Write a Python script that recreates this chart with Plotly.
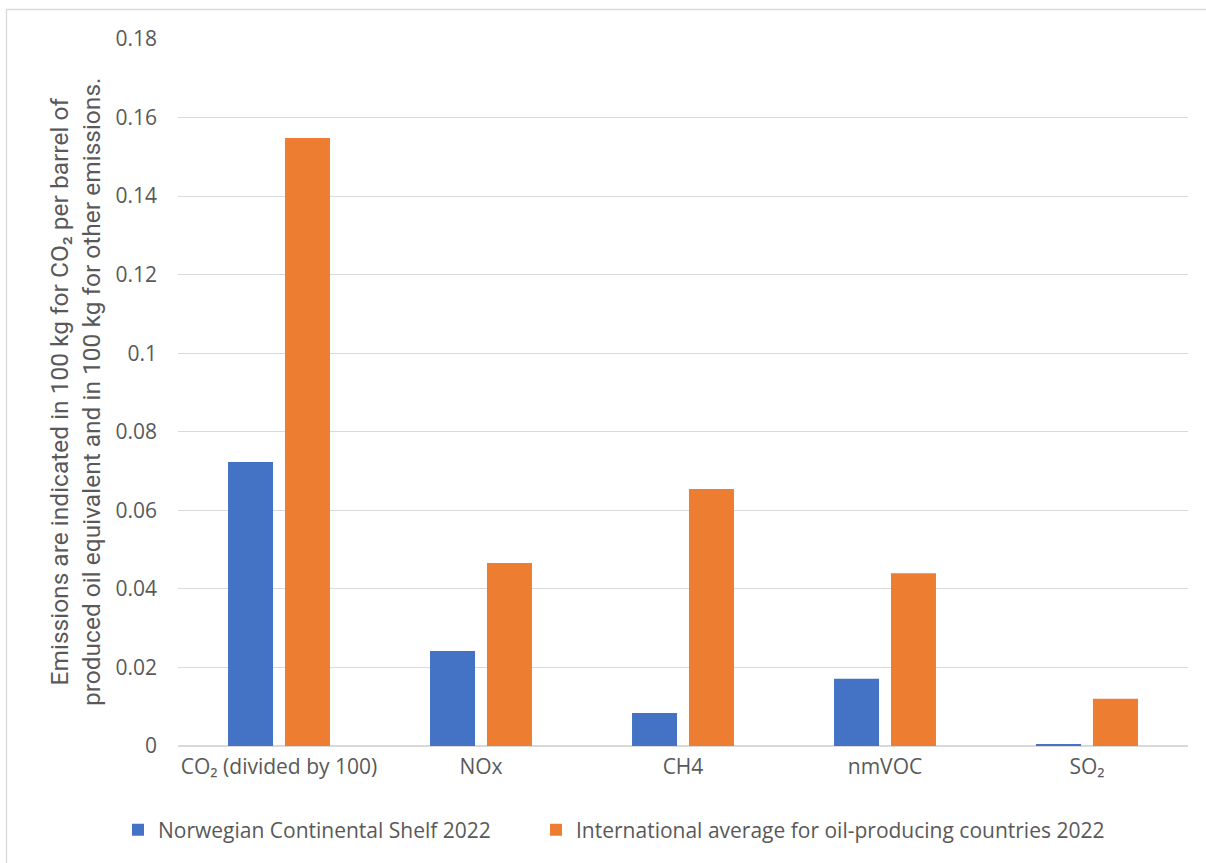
import plotly.graph_objects as go

categories = ["CO₂ (divided by 100)", "NOx", "CH4", "nmVOC", "SO₂"]
series_names = ["Norwegian Continental Shelf 2022",
                "International average for oil-producing countries 2022"]
ncs_values = [0.0723, 0.0242, 0.0084, 0.0171, 0.0004]
intl_values = [0.1548, 0.0466, 0.0654, 0.0440, 0.0120]
y_ticks = [0, 0.02, 0.04, 0.06, 0.08, 0.1, 0.12, 0.14, 0.16, 0.18]
y_tick_labels = ["0", "0.02", "0.04", "0.06", "0.08", "0.1", "0.12", "0.14", "0.16", "0.18"]
y_title = ("Emissions are indicated in 100 kg for CO₂ per barrel of<br>"
           "produced oil equivalent and in 100 kg for other emissions.")

BLUE = "#4472C4"
ORANGE = "#ED7D31"
TXT = "#595959"
FONT = "Open Sans, Noto Sans, sans-serif"

fig = go.Figure()
fig.add_trace(go.Bar(x=categories, y=ncs_values, name=series_names[0], legend="legend",
                     marker=dict(color=BLUE, line=dict(width=0))))
fig.add_trace(go.Bar(x=categories, y=intl_values, name=series_names[1], legend="legend2",
                     marker=dict(color=ORANGE, line=dict(width=0))))

W, H = 1206, 863
L, R, T, B = 178, 18, 39, 117
pw, ph = W - L - R, H - T - B

def px(x):
    return (x - L) / pw

def py(y):
    return (H - B - y) / ph

leg_common = dict(orientation="h", yanchor="middle", xanchor="left", itemwidth=30,
                  font=dict(family=FONT, size=21, color=TXT), bgcolor="rgba(0,0,0,0)")

fig.update_layout(
    width=W, height=H,
    margin=dict(l=L, r=R, t=T, b=B),
    paper_bgcolor="white", plot_bgcolor="white",
    barmode="group", bargap=0.436, bargroupgap=0.21,
    font=dict(family=FONT, color=TXT, size=21),
    showlegend=True,
    legend=dict(x=px(118), y=py(830), **leg_common),
    legend2=dict(x=px(536), y=py(830), **leg_common),
    xaxis=dict(showgrid=False, showline=False, ticks="", ticklabelstandoff=6,
               tickfont=dict(family=FONT, size=21, color=TXT)),
    yaxis=dict(range=[0, 0.18], tickvals=y_ticks, ticktext=y_tick_labels,
               showgrid=True, gridcolor="#d9d9d9", gridwidth=1,
               zeroline=True, zerolinecolor="#d9d9d9", zerolinewidth=1.5,
               showline=False, ticks="", ticklabelstandoff=20,
               tickfont=dict(family=FONT, size=21, color=TXT)),
    shapes=[dict(type="rect", xref="paper", yref="paper",
                 x0=px(6.5), x1=px(1215), y0=py(870), y1=py(9.5),
                 line=dict(color="#d9d9d9", width=1.3), fillcolor="rgba(0,0,0,0)",
                 layer="below")],
    annotations=[dict(text=y_title, xref="paper", yref="paper",
                      x=px(75.5), y=0.5, xanchor="center", yanchor="middle",
                      textangle=-90, showarrow=False,
                      font=dict(family="Roboto, sans-serif", size=24.5, color=TXT))],
)

fig.write_html("out.html", config={"displayModeBar": False},
               post_script="document.body.style.margin='0';document.body.style.overflow='hidden';")
